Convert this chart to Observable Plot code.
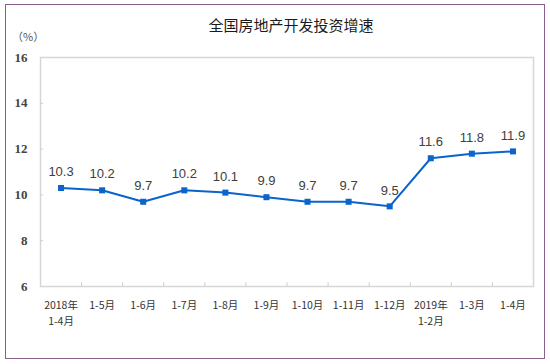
<!DOCTYPE html>
<html>
<head>
<meta charset="utf-8">
<script src="https://cdn.jsdelivr.net/npm/d3@7"></script>
<script src="https://cdn.jsdelivr.net/npm/@observablehq/plot@0.6"></script>
<style>
  html, body { margin: 0; padding: 0; background: #fff; }
  #wrap { position: relative; width: 550px; height: 364px; overflow: hidden; }
  #border { position: absolute; left: 5px; top: 4px; width: 538px; height: 353px; border: 1.5px solid #8b5e8b; box-sizing: content-box; }
  #title { position: absolute; left: 16px; width: 550px; top: 17px; text-align: center; font: 15px "Noto Sans CJK SC", sans-serif; color: #1a1a1a; line-height: 16px; }
  #unit { position: absolute; left: 12px; top: 28px; font: 11px "Noto Sans CJK SC", sans-serif; color: #555; }
  #chart { position: absolute; left: 0; top: 0; }
</style>
</head>
<body>
<div id="wrap">
  <div id="border"></div>
  <div id="chart"></div>
  <div id="title"></div>
  <div id="unit"></div>
</div>
<script>
const title = "全国房地产开发投资增速";
const unit = "（%）";
const categories = ["2018年\n1-4月", "1-5月", "1-6月", "1-7月", "1-8月", "1-9月", "1-10月", "1-11月", "1-12月", "2019年\n1-2月", "1-3月", "1-4月"];
const values = [10.3, 10.2, 9.7, 10.2, 10.1, 9.9, 9.7, 9.7, 9.5, 11.6, 11.8, 11.9];
const yTicks = [6, 8, 10, 12, 14, 16];

document.getElementById("title").textContent = title;
document.getElementById("unit").textContent = unit;

const W = 550, H = 364;
const mL = 40, mR = 17, mT = 57, mB = 78;
const innerW = W - mL - mR, innerH = H - mT - mB;
const data = categories.map((c, i) => ({i, c, v: values[i]}));
const idx = d3.range(categories.length);
const bounds = d3.range(1, categories.length).map(i => i - 0.5);
const blue = "#0b63cc";

const chart = Plot.plot({
  width: W, height: H,
  marginLeft: mL, marginRight: mR, marginTop: mT, marginBottom: mB,
  x: {type: "linear", domain: [-0.5, categories.length - 0.5]},
  y: {domain: [6, 16]},
  style: {background: "transparent"},
  marks: [
    Plot.frame({stroke: "#d6d6d6", strokeWidth: 1.5}),
    Plot.ruleX(bounds, {x: d => d, stroke: "#cfcfcf", insetTop: innerH - 4}),
    Plot.ruleY(yTicks.slice(1, -1), {y: d => d, stroke: "#cfcfcf", insetRight: innerW - 3}),
    Plot.axisY(yTicks, {tickSize: 0, tickPadding: 13, fontFamily: "Liberation Serif", fontSize: 13, fontWeight: "bold", fill: "#444", label: null}),
    Plot.axisX(idx, {tickSize: 0, tickPadding: 12, tickFormat: i => categories[i], fontFamily: "Noto Sans CJK SC", fontSize: 10.5, fill: "#333", lineHeight: 1.45, label: null}),
    Plot.line(data, {x: "i", y: "v", stroke: blue, strokeWidth: 2}),
    Plot.dot(data, {x: "i", y: "v", symbol: "square", r: 3.4, fill: blue, stroke: "none"}),
    Plot.text(data, {x: "i", y: "v", text: d => d.v.toFixed(1), dy: -16, fontFamily: "Liberation Sans", fontSize: 13, fill: "#404040"})
  ]
});
document.getElementById("chart").appendChild(chart);
</script>
</body>
</html>
